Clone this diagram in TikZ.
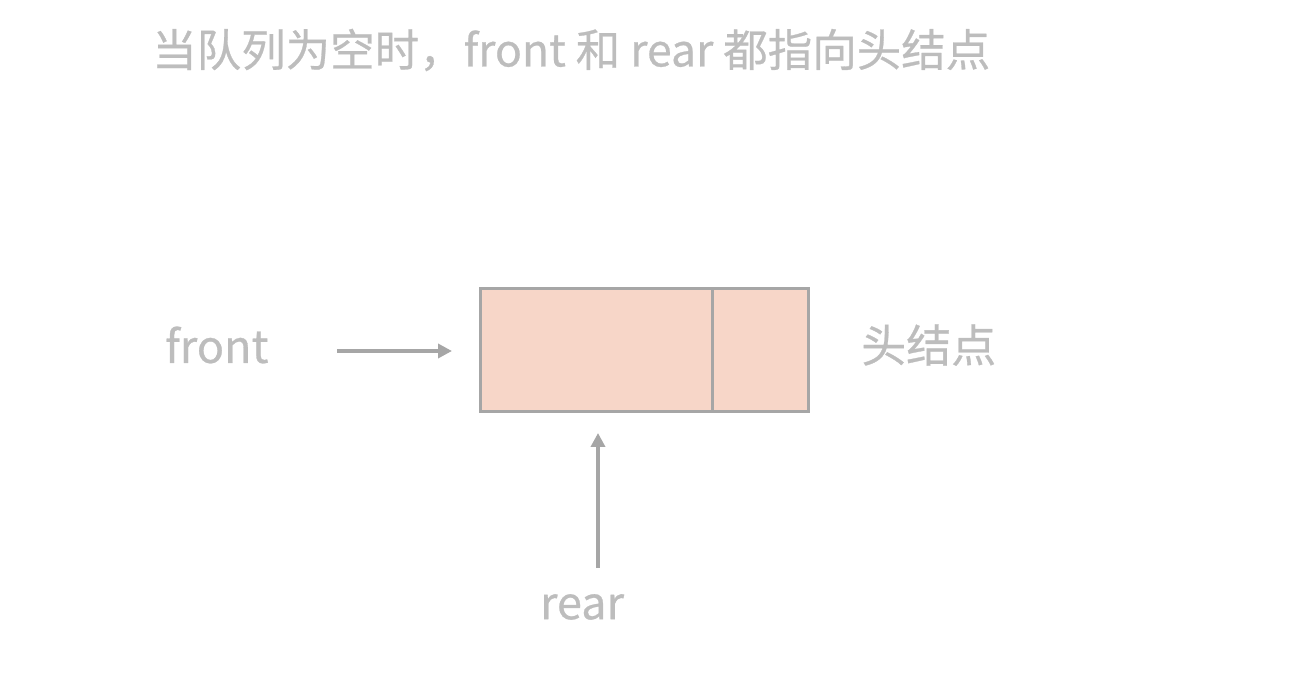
\documentclass[tikz,border=0pt]{standalone}
\usepackage{fontspec}
\setmainfont{Noto Sans CJK SC}[FakeBold=0.6]
\usetikzlibrary{arrows.meta}
\definecolor{txtgray}{HTML}{BDBDBD}
\definecolor{linegray}{HTML}{A6A6A6}
\definecolor{boxfill}{HTML}{F7D6C8}
\begin{document}
\begin{tikzpicture}[x=1pt,y=-1pt,
  lbl/.style={text=txtgray,font=\fontsize{45}{54}\selectfont,inner sep=0pt},
  cell/.style={draw=linegray,line width=3pt,fill=boxfill,minimum height=123pt,inner sep=0pt},
  ptr/.style={draw=linegray,line width=3.5pt,-{Triangle[length=14pt,width=14pt]}}]
\useasboundingbox (0,0) rectangle (1302,692);
\node[lbl,anchor=west,font=\fontsize{44.5}{54}\selectfont] (title) at (152,50) {当队列为空时，front 和 rear 都指向头结点};
\node[cell,minimum width=232pt,anchor=north west] (data) at (479,287) {};
\node[cell,minimum width=96pt,anchor=north west] (next) at (711,287) {};
\node[lbl,anchor=west] (front) at (165,345) {front};
\node[lbl,anchor=west] (head) at (861,345) {头结点};
\node[lbl] (rear) at (582,607) {rear};
\coordinate (fs) at (337,351);
\coordinate (fe) at (452,351);
\coordinate (rs) at (598,568);
\coordinate (re) at (598,433);
\draw[ptr] (fs) -- (fe);
\draw[ptr] (rs) -- (re);
\end{tikzpicture}
\end{document}
